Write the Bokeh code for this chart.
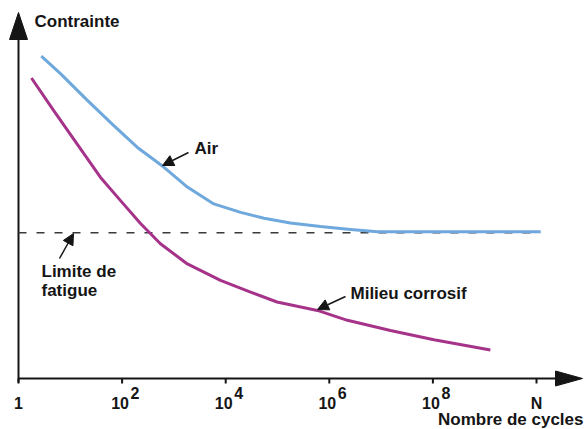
from bokeh.plotting import figure
from bokeh.models import Range1d, Arrow, NormalHead
from bokeh.core.properties import value
from bokeh.embed import file_html
from bokeh.resources import INLINE

# ---- data (x = log10 of number of cycles, y = stress, arbitrary units) ----
air_logn = [0.44, 0.81, 1.33, 1.84, 2.29, 2.81, 3.26, 3.77, 4.29, 4.74, 5.25,
            5.83, 6.41, 6.93, 10.08]
air_stress = [88.1, 83.3, 76.0, 69.1, 63.2, 57.7, 52.3, 47.7, 45.4, 43.8, 42.5,
              41.5, 40.7, 40.1, 40.1]

corr_logn = [0.25, 0.68, 1.13, 1.58, 1.97, 2.36, 2.74, 3.26, 3.90, 4.48, 4.99,
             5.77, 6.35, 7.18, 8.02, 9.11]
corr_stress = [82.1, 73.2, 64.1, 55.0, 48.6, 42.3, 36.8, 31.3, 26.8, 23.6, 20.9,
               18.6, 15.9, 13.1, 10.6, 7.8]

limit_stress = 39.8
limit_span = [0.0, 10.08]

tick_pos = [0, 2, 4, 6, 8, 10]
tick_base = ["1", "10", "10", "10", "10", "N"]
exp_pos = [2, 4, 6, 8]
exp_text = ["2", "4", "6", "8"]

y_title = "Contrainte"
x_title = "Nombre de cycles"

# ---- layout constants ----
W, H = 585, 429
SX = 51.8   # px per decade
SY = 3.66   # px per stress unit
OX, OY = 18, 378   # origin inside figure (px)

FONT = value("Liberation Sans")
INK = "#151515"
BLUE = "#6ea8dc"
MAGENTA = "#a6338a"

def L(fx):  # figure px -> data x
    return (fx - OX) / SX

def S(fy):  # figure px (from top) -> data y
    return (OY - fy) / SY

p = figure(width=W, height=H, output_backend="svg", toolbar_location=None,
           x_axis_type=None, y_axis_type=None,
           x_range=Range1d(L(0), L(W)), y_range=Range1d(S(H), S(0)),
           min_border=0, outline_line_color=None, background_fill_color="white",
           border_fill_color="white")
p.xgrid.visible = False
p.ygrid.visible = False

# ---- axes ----
x_tip = L(582)
x_head = 27 / SX
y_tip = S(12)
y_head = 27 / SY
p.segment(x0=[0, 0], y0=[0, -4 / SY], x1=[x_tip - x_head + 0.05, 0],
          y1=[0, y_tip - y_head + 0.5], line_color=INK, line_width=2)
p.patches(xs=[[x_tip, x_tip - x_head, x_tip - x_head],
              [0, -9 / SX, 9 / SX]],
          ys=[[0, 7.5 / SY, -7.5 / SY],
              [y_tip, y_tip - y_head, y_tip - y_head]],
          fill_color=INK, line_color=INK, line_width=1)

# ticks
p.segment(x0=tick_pos, y0=[0] * len(tick_pos), x1=tick_pos,
          y1=[-5 / SY] * len(tick_pos), line_color=INK, line_width=2)
p.text(x=tick_pos, y=[0] * len(tick_pos), text=tick_base, x_offset=[0, -2, -2, -2, -2, 0],
       y_offset=24.5, text_align="center", text_baseline="middle",
       text_font=FONT, text_font_style="bold", text_font_size="16px", text_color=INK)
p.text(x=exp_pos, y=[0] * len(exp_pos), text=exp_text, x_offset=8.5, y_offset=14.5,
       text_align="left", text_baseline="middle",
       text_font=FONT, text_font_style="bold", text_font_size="16px", text_color=INK)

# axis titles
p.text(x=[L(34)], y=[S(21)], text=[y_title], text_align="left", text_baseline="middle",
       text_font=FONT, text_font_style="bold", text_font_size="17px", text_color=INK)
p.text(x=[L(583)], y=[S(419)], text=[x_title], text_align="right", text_baseline="middle",
       text_font=FONT, text_font_style="bold", text_font_size="17px", text_color=INK)

# ---- fatigue limit ----
p.line(x=limit_span, y=[limit_stress] * 2, line_color="#3a3a3a", line_width=1.5,
       line_dash="8 10")

# ---- curves ----
p.line(x=air_logn, y=air_stress, line_color=BLUE, line_width=3, line_join="round")
p.line(x=corr_logn, y=corr_stress, line_color=MAGENTA, line_width=3, line_join="round")

# ---- annotations ----
def add_arrow(x0, y0, x1, y1):
    p.add_layout(Arrow(end=NormalHead(size=11, fill_color=INK, line_color=INK),
                       x_start=x0, y_start=y0, x_end=x1, y_end=y1,
                       line_color=INK, line_width=1.5))

add_arrow(L(188), S(152), L(162), S(165))      # Air
add_arrow(L(345), S(296), L(317), S(309))      # Milieu corrosif
add_arrow(L(59), S(258), L(73), S(233))        # Limite de fatigue

p.text(x=[L(194), L(350), L(41), L(41)], y=[S(147.5), S(293), S(270.5), S(290)],
       text=["Air", "Milieu corrosif", "Limite de", "fatigue"],
       text_align="left", text_baseline="middle",
       text_font=FONT, text_font_style="bold", text_font_size="17px", text_color=INK)

open("out.html", "w").write(file_html(p, INLINE))
